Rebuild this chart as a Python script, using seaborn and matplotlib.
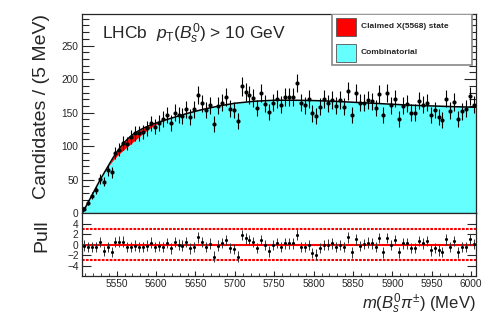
import numpy as np
import matplotlib
matplotlib.use("Agg")
import matplotlib.pyplot as plt
from matplotlib.ticker import MultipleLocator
from matplotlib.patches import Rectangle
import seaborn as sns

# binning: 100 bins de 5 MeV a partir do limiar
bin_lo = 5506.0
bin_w = 5.0

# contagens por bin
counts = [7, 16, 26, 35, 51, 47, 64, 61, 90, 95,
          105, 104, 114, 119, 119, 121, 127, 134, 129, 135,
          140, 146, 135, 150, 146, 145, 155, 143, 155, 176,
          164, 154, 161, 133, 160, 165, 173, 156, 154, 138,
          189, 181, 176, 172, 157, 179, 163, 151, 165, 170,
          162, 173, 173, 173, 194, 165, 161, 170, 149, 145,
          159, 170, 164, 169, 160, 169, 159, 182, 147, 179,
          165, 165, 169, 167, 157, 178, 147, 180, 161, 171,
          141, 160, 163, 150, 150, 168, 162, 165, 146, 154,
          143, 139, 171, 153, 166, 141, 152, 156, 175, 162]

# pulls por bin
pulls = [-0.2, -0.4, -0.4, -0.5, 0.5, -1.2, -0.4, -1.4, 0.5, 0.6,
         0.6, -0.5, -0.4, -0.2, -0.4, -0.5, -0.2, 0.4, -0.4, -0.3,
         -0.4, 0.3, -0.7, 0.5, 0.0, -0.2, 0.5, -0.7, -0.4, 1.4,
         0.5, -0.4, 0.2, -2.3, -0.2, 0.3, 0.9, -0.6, -0.8, -2.3,
         1.8, 1.2, 0.9, 0.5, -0.6, 0.9, -0.1, -1.3, -0.1, 0.3,
         -0.5, 0.25, 0.25, 0.25, 1.9, -0.4, -0.5, -0.1, -1.6, -1.9,
         -0.6, -0.1, 0.0, 0.25, -0.5, -0.1, -0.5, 1.4, -1.5, 1.0,
         -0.25, 0.1, 0.4, 0.25, -0.4, 1.25, -1.5, 1.25, -0.1, 0.9,
         -1.5, 0.25, 0.25, -0.6, -0.6, 0.75, 0.25, 0.75, -1.1, -0.6,
         -1.1, -1.4, 1.0, -0.4, 0.75, -1.5, -0.5, -0.4, 1.0, 0.1]

# curvas do ajuste: total e so combinatorial
fit_mass = [5506.4, 5510, 5515, 5520, 5525, 5530, 5535, 5540, 5545, 5550,
            5555, 5560, 5565, 5570, 5575, 5580, 5585, 5590, 5595, 5600,
            5610, 5620, 5630, 5640, 5650, 5660, 5680, 5700, 5725, 5750,
            5775, 5800, 5825, 5850, 5875, 5900, 5925, 5950, 5975, 6006]
fit_total = [0, 8, 19, 30, 41, 52, 62, 72, 82, 91,
             99, 106, 112, 117, 121, 124.5, 127.5, 130, 132.5, 134.5,
             138.5, 142, 145.5, 149, 152, 155, 160, 164, 167, 168.5,
             168.5, 168, 167, 165.5, 164, 162.5, 161, 160, 159, 158]
fit_bkg = [0, 8, 19, 30, 41, 52, 62, 71, 78.5, 85,
           90.5, 95.5, 100.5, 105.5, 110.5, 115.5, 120.5, 125, 129, 132.5,
           138, 142, 145.5, 149, 152, 155, 160, 164, 167, 168.5,
           168.5, 168, 167, 165.5, 164, 162.5, 161, 160, 159, 158]

mass = bin_lo + bin_w * (np.arange(len(counts)) + 0.5)
counts = np.array(counts, dtype=float)

sns.set_style("ticks")
plt.rcParams["font.family"] = ["Liberation Sans", "DejaVu Sans"]
plt.rcParams["mathtext.fontset"] = "custom"
plt.rcParams["mathtext.rm"] = "Liberation Sans"
plt.rcParams["mathtext.it"] = "Liberation Sans:italic"
plt.rcParams["mathtext.bf"] = "Liberation Sans:bold"
plt.rcParams["axes.linewidth"] = 0.9

fig = plt.figure(figsize=(5.04, 3.25), dpi=100)
ax = fig.add_axes([0.1627, 0.3437, 0.7817, 0.6132])
axp = fig.add_axes([0.1627, 0.1508, 0.7817, 0.1929], sharex=ax)

# painel principal
ax.fill_between(fit_mass, 0, fit_bkg, color="#66ffff", lw=0, zorder=1)
ax.fill_between(fit_mass, fit_bkg, fit_total, color="#ff0000", lw=0, zorder=1)
sns.lineplot(x=fit_mass, y=fit_total, ax=ax, color="black", lw=1.1, zorder=2, sort=False)
ax.errorbar(mass, counts, yerr=np.sqrt(counts), fmt="none", ecolor="black",
            elinewidth=0.8, capsize=0, zorder=3)
sns.scatterplot(x=mass, y=counts, ax=ax, color="black", s=9, linewidth=0, zorder=4)

ax.set_xlim(5506, 6006)
ax.set_ylim(0, 297)
ax.set_xlabel("")
ax.set_ylabel("")
ax.yaxis.set_major_locator(MultipleLocator(50))
ax.yaxis.set_minor_locator(MultipleLocator(10))
ax.tick_params(axis="y", which="major", direction="in", length=8.5, width=0.8,
               right=True, labelsize=7.3, pad=2.5)
ax.tick_params(axis="y", which="minor", direction="in", length=5, width=0.8, right=True)
ax.tick_params(axis="x", which="both", bottom=False, labelbottom=False)

ax.text(0.051, 0.873, r"LHCb  $p_{\mathrm{T}}(B_{s}^{\mathit{0}})$ > 10 GeV",
        transform=ax.transAxes, fontsize=12.5, va="baseline", ha="left")

# legenda desenhada a mao, estilo ROOT
ax.add_patch(Rectangle((0.6345, 0.744), 0.355, 0.256, transform=ax.transAxes,
                       facecolor="white", edgecolor="#888888", lw=1.2, zorder=5))
ax.add_patch(Rectangle((0.645, 0.89), 0.051, 0.09, transform=ax.transAxes,
                       facecolor="#ff0000", edgecolor="#555555", lw=0.6, zorder=6))
ax.add_patch(Rectangle((0.645, 0.757), 0.051, 0.095, transform=ax.transAxes,
                       facecolor="#66ffff", edgecolor="#555555", lw=0.6, zorder=6))
ax.text(0.708, 0.935, "Claimed X(5568) state", transform=ax.transAxes,
        fontsize=6, weight="bold", va="center", zorder=7)
ax.text(0.708, 0.807, "Combinatorial", transform=ax.transAxes,
        fontsize=6, weight="bold", va="center", zorder=7)

# painel de pulls
axp.axhline(0, color="red", lw=1.5, zorder=1)
axp.axhline(3, color="red", lw=1.5, ls=(0, (1.3, 0.6)), zorder=1)
axp.axhline(-3, color="red", lw=1.5, ls=(0, (1.3, 0.6)), zorder=1)
axp.errorbar(mass, pulls, yerr=1.0, fmt="none", ecolor="#333333",
             elinewidth=0.7, capsize=0, zorder=2)
sns.scatterplot(x=mass, y=pulls, ax=axp, color="black", s=5, linewidth=0, zorder=3)
axp.set_ylim(-6, 6)
axp.set_yticks([-4, -2, 0, 2, 4])
axp.xaxis.set_major_locator(MultipleLocator(50))
axp.xaxis.set_minor_locator(MultipleLocator(10))
axp.tick_params(axis="y", which="major", direction="in", length=6.5, width=0.8,
                right=True, labelsize=7.3, pad=2.5)
axp.tick_params(axis="x", which="major", direction="in", length=3.5, width=0.8,
                labelsize=7.3, pad=2.5)
axp.tick_params(axis="x", which="minor", direction="in", length=2, width=0.6)
axp.set_xlabel("")
axp.set_ylabel("")

fig.text(42 / 504, 0.957, "Candidates / (5 MeV)", rotation=90, ha="center",
         va="top", fontsize=14)
fig.text(42 / 504, 1 - 219 / 325, "Pull", rotation=90, ha="center", va="top",
         fontsize=14)
fig.text(476 / 504, 1 - 304 / 325, r"$m(B_{s}^{\mathit{0}}\pi^{\pm})$ (MeV)",
         ha="right", va="center", fontsize=12)

fig.savefig("out.png", dpi=100)
